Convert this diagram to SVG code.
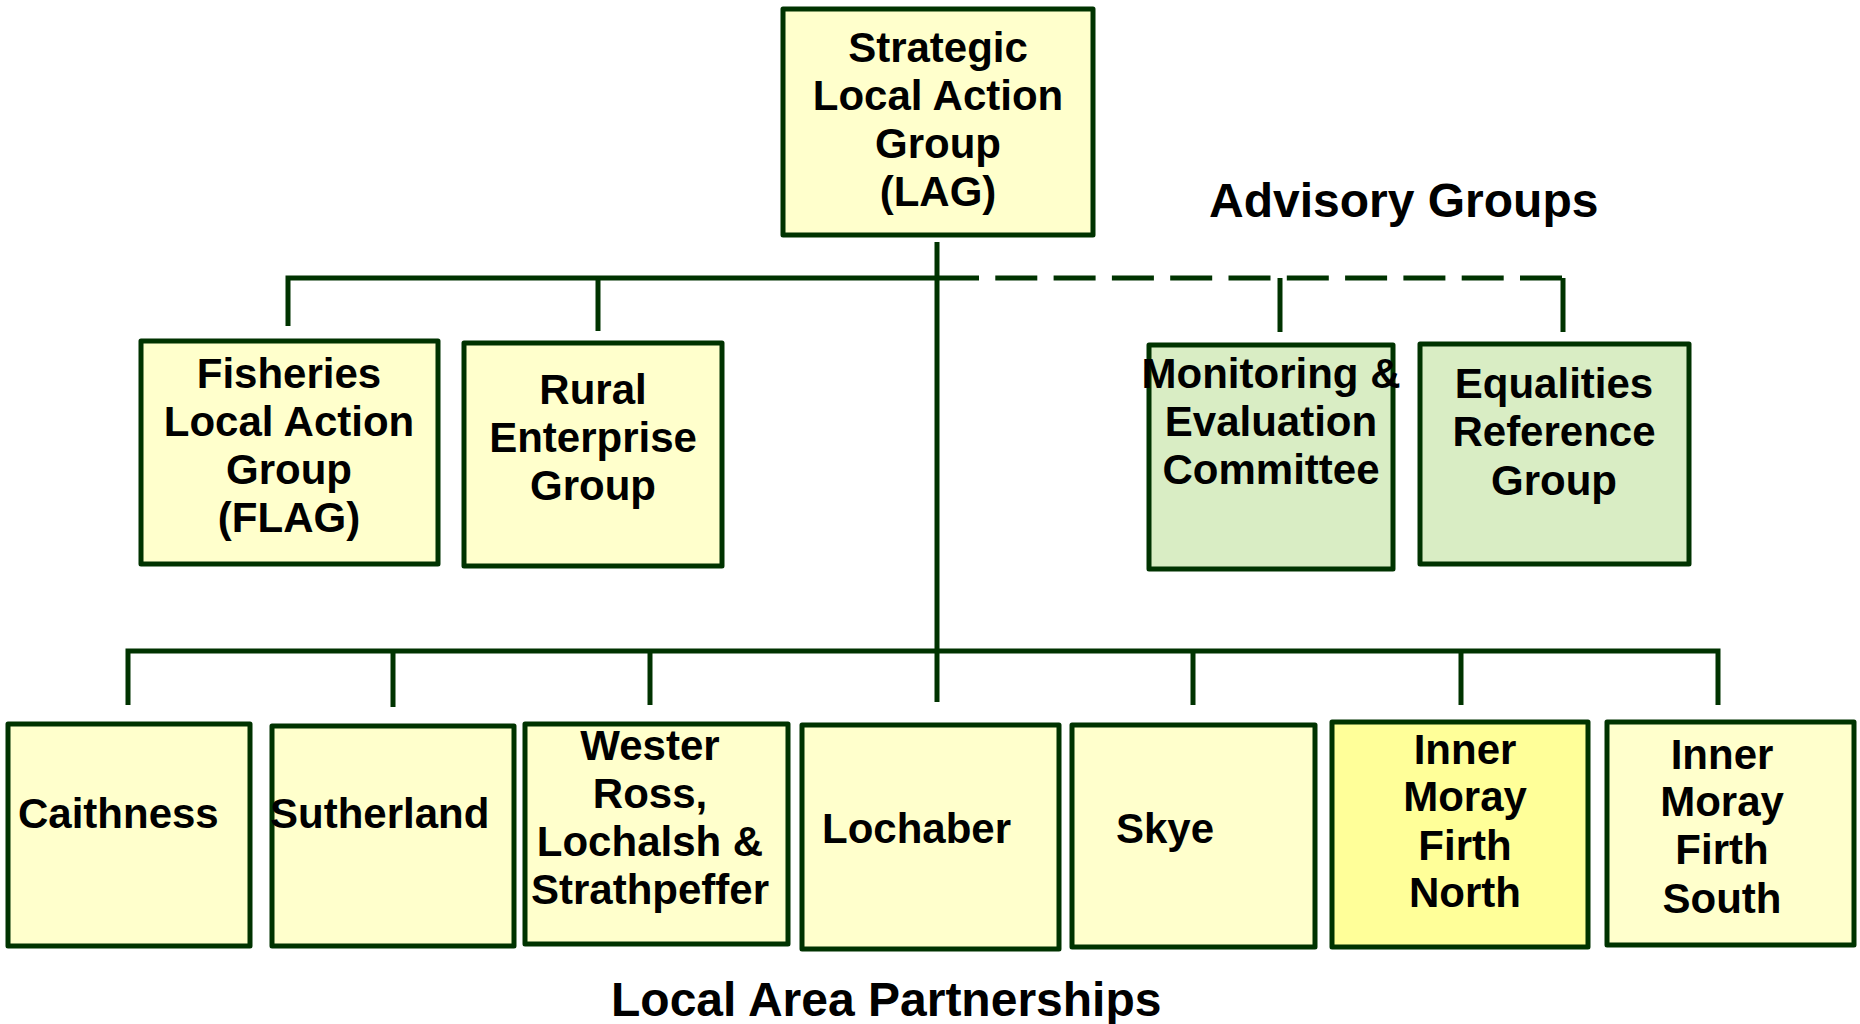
<svg xmlns="http://www.w3.org/2000/svg" width="1860" height="1024" viewBox="0 0 1860 1024">
<style>
.box{stroke:#003300;stroke-width:5;stroke-linejoin:round}
.y{fill:#FFFFCC}
.y2{fill:#FFFF99}
.g{fill:#D9EDC4}
.t{font-family:"Liberation Sans",Arial,sans-serif;font-weight:bold;font-size:42px;fill:#000}
.c{text-anchor:middle}
.h{font-family:"Liberation Sans",Arial,sans-serif;font-weight:bold;font-size:48px;fill:#000}
.ln{stroke:#003300;stroke-width:5;fill:none}
.dash{stroke-dasharray:42 16.3}
</style>
<rect width="1860" height="1024" fill="#fff"/>
<g id="connectors">
<path class="ln" d="M937 242V702"/>
<path class="ln" d="M288 326V278H937"/>
<path class="ln" d="M598 278V331"/>
<path class="ln dash" d="M937 278H1563"/>
<path class="ln" d="M1280 278V332"/>
<path class="ln" d="M1563 278V332"/>
<path class="ln" d="M128 705V651H1718V705"/>
<path class="ln" d="M393 651V707"/>
<path class="ln" d="M650 651V705"/>
<path class="ln" d="M1193 651V705"/>
<path class="ln" d="M1461 651V705"/>
</g>
<g id="lag">
<rect class="box y" x="783" y="9" width="310" height="226"/>
<text class="t c"><tspan x="938" y="62">Strategic</tspan><tspan x="938" y="110">Local Action</tspan><tspan x="938" y="158">Group</tspan><tspan x="938" y="206">(LAG)</tspan></text>
</g>
<g id="flag">
<rect class="box y" x="141" y="341" width="297" height="223"/>
<text class="t c"><tspan x="289" y="388">Fisheries</tspan><tspan x="289" y="436">Local Action</tspan><tspan x="289" y="484">Group</tspan><tspan x="289" y="532">(FLAG)</tspan></text>
</g>
<g id="rural">
<rect class="box y" x="464" y="343" width="258" height="223"/>
<text class="t c"><tspan x="593" y="404">Rural</tspan><tspan x="593" y="452">Enterprise</tspan><tspan x="593" y="500">Group</tspan></text>
</g>
<g id="monitoring">
<rect class="box g" x="1149" y="345" width="244" height="224"/>
<text class="t c"><tspan x="1271" y="388">Monitoring &amp;</tspan><tspan x="1271" y="436">Evaluation</tspan><tspan x="1271" y="484">Committee</tspan></text>
</g>
<g id="equalities">
<rect class="box g" x="1420" y="344" width="269" height="220"/>
<text class="t c"><tspan x="1554" y="398">Equalities</tspan><tspan x="1554" y="446">Reference</tspan><tspan x="1554" y="495">Group</tspan></text>
</g>
<g id="advisory-label">
<text class="h" x="1209" y="217">Advisory Groups</text>
</g>
<g id="caithness">
<rect class="box y" x="8" y="724" width="242" height="222"/>
<text class="t" x="18" y="828">Caithness</text>
</g>
<g id="sutherland">
<rect class="box y" x="272" y="726" width="242" height="220"/>
<text class="t" x="270" y="828">Sutherland</text>
</g>
<g id="wester">
<rect class="box y" x="525" y="724" width="263" height="220"/>
<text class="t c"><tspan x="650" y="760">Wester</tspan><tspan x="650" y="808">Ross,</tspan><tspan x="650" y="856">Lochalsh &amp;</tspan><tspan x="650" y="904">Strathpeffer</tspan></text>
</g>
<g id="lochaber">
<rect class="box y" x="802" y="725" width="257" height="224"/>
<text class="t" x="822" y="843">Lochaber</text>
</g>
<g id="skye">
<rect class="box y" x="1072" y="725" width="243" height="222"/>
<text class="t" x="1116" y="843">Skye</text>
</g>
<g id="imf-north">
<rect class="box y2" x="1332" y="722" width="256" height="225"/>
<text class="t c"><tspan x="1465" y="764">Inner</tspan><tspan x="1465" y="811">Moray</tspan><tspan x="1465" y="860">Firth</tspan><tspan x="1465" y="907">North</tspan></text>
</g>
<g id="imf-south">
<rect class="box y" x="1607" y="722" width="247" height="223"/>
<text class="t c"><tspan x="1722" y="769">Inner</tspan><tspan x="1722" y="816">Moray</tspan><tspan x="1722" y="864">Firth</tspan><tspan x="1722" y="913">South</tspan></text>
</g>
<g id="lap-label">
<text class="h" x="611" y="1016">Local Area Partnerships</text>
</g>
</svg>
